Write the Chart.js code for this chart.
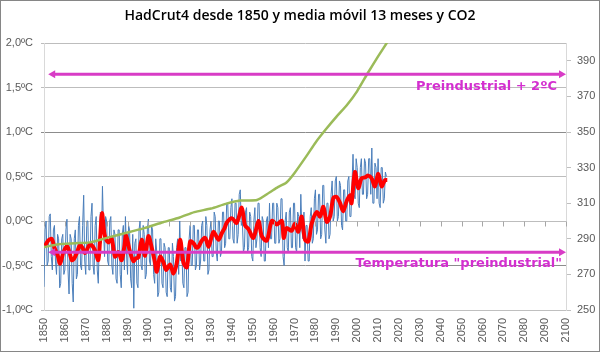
<!DOCTYPE html>
<html>
<head>
<meta charset="utf-8">
<script src="https://cdn.jsdelivr.net/npm/chart.js@4.4.1/dist/chart.umd.min.js"></script>
<style>
html,body{margin:0;padding:0;background:#fff;}
#wrap{width:600px;height:352px;position:relative;}
</style>
</head>
<body>
<div id="wrap"><canvas id="c" width="600" height="352"></canvas></div>
<script>
// ---- DATA ----
const titleText = 'HadCrut4 desde 1850 y media móvil 13 meses y CO2';
const xTickYears = [1850,1860,1870,1880,1890,1900,1910,1920,1930,1940,1950,1960,1970,1980,1990,2000,2010,2020,2030,2040,2050,2060,2070,2080,2090,2100];
const tempTicks = [-1.0,-0.5,0.0,0.5,1.0,1.5,2.0];
const co2Ticks = [250,270,290,310,330,350,370,390];

// Monthly anomaly (blue), every half year, first point 1850.0
const blueFirstYear = 1850;
const blueStep = 0.5;
const blueTemps = [
 -0.74,-0.1, 0.0,-0.5, -0.45,0.05, 0.08,-0.4, -0.55,-0.1, -0.05,-0.45, -0.6,-0.15, -0.2,-0.75, -0.7,-0.2, -0.15,-0.6,
 -0.55,-0.1, 0.02,-0.55, -0.82,-0.15, -0.2,-0.7, -0.91,-0.2, -0.1,-0.65, -0.6,-0.05, 0.05,-0.5, -0.55,-0.05, 0.29,-0.45,
 -0.6,0.0, 0.0,-0.55, -0.55,0.05, 0.2,-0.5, -0.6,-0.05, 0.05,-0.55, -0.7,-0.2, 0.1,-0.25, 0.39,-0.1, -0.4,0.05,
 0.0,-0.45, -0.5,0.0, 0.05,-0.5, -0.6,-0.1, -0.15,-0.65, -0.7,-0.1, -0.1,-0.6, -0.75,-0.15, -0.05,-0.55, 0.05,-0.35,
 -0.6,-0.05, -0.1,-0.65, -0.75,-0.15, -0.98,-0.25, -0.2,-0.7, -0.75,-0.1, 0.0,-0.5, -0.55,-0.05, -0.15,-0.65, -0.6,-0.1,
 0.02,-0.45, -0.5,-0.05, -0.1,-0.6, -0.7,-0.2, -0.35,-0.85, -0.8,-0.2, -0.2,-0.7, -0.75,-0.25, -0.3,-0.8, -0.85,-0.3,
 -0.3,-0.75, -0.8,-0.25, -0.4,-0.9, -0.85,-0.3, -0.2,-0.6, 0.0,-0.45, -0.3,-0.7, -0.75,-0.3, -0.3,-0.85, -0.8,-0.2,
 -0.05,-0.5, -0.5,-0.05, -0.05,-0.55, -0.5,-0.1, -0.1,-0.55, -0.45,-0.05, 0.0,-0.45, -0.45,0.05, -0.05,-0.6, -0.55,-0.1,
 0.0,-0.4, -0.4,0.1, 0.05,-0.35, -0.45,0.0, 0.0,-0.4, -0.35,0.1, 0.1,-0.3, -0.25,0.2, 0.2,-0.2, -0.2,0.15,
 0.25,-0.2, -0.25,0.2, 0.2,-0.25, -0.15,0.3, 0.35,-0.05, 0.0,-0.35, -0.3,0.1, 0.15,-0.35, -0.3,0.1, 0.05,-0.4,
 -0.45,0.0, 0.15,-0.3, -0.2,0.2, 0.2,-0.3, -0.4,0.05, 0.0,-0.45, -0.45,0.0, 0.05,-0.3, 0.2,-0.2, -0.2,0.2,
 0.2,-0.25, -0.25,0.2, 0.15,-0.25, -0.2,0.25, 0.25,-0.4, -0.5,0.0, 0.1,-0.3, -0.35,0.1, 0.15,-0.3, -0.3,0.2,
 0.2,-0.3, -0.35,0.1, 0.05,-0.3, 0.3,-0.1, -0.2,0.1, -0.45,-0.05, -0.05,-0.45, -0.45,0.05, 0.15,-0.25, -0.2,0.25,
 0.35,-0.15, -0.1,0.3, 0.3,-0.2, -0.15,0.4, 0.4,-0.1, -0.25,0.2, 0.2,-0.2, -0.15,0.3, 0.45,0.0, 0.05,0.45,
 0.5,0.0, 0.05,0.45, 0.4,-0.05, -0.1,0.35, 0.35,0.0, 0.0,0.45, 0.5,0.05, 0.05,0.4, 0.75,0.3, 0.25,0.7,
 0.6,0.2, 0.15,0.6, 0.7,0.3, 0.3,0.7, 0.65,0.25, 0.3,0.7, 0.7,0.3, 0.82,0.2, 0.2,0.65, 0.6,0.25,
 0.7,0.2, 0.15,0.6, 0.6,0.2, 0.25,0.55, 0.5
];

// 13-month moving average (red)
const redYears = [1850.5,1852,1853.7,1855,1856.5,1857.7,1859.3,1861,1862.2,1863.3,1864.5,1865.7,1867.2,1868.4,1869.6,1871,1872,1873.2,1874.4,1876,1877,1877.8,1879,1880.8,1882.4,1884,1885.6,1887.2,1888.4,1889.3,1891,1892.8,1894,1895.2,1896.8,1898.4,1900,1901.6,1903,1904,1905.6,1907.3,1908.5,1910.4,1912,1913.6,1915.2,1916.8,1918.4,1920,1921.6,1923,1924,1925.6,1927.2,1928.8,1930,1931.2,1933.6,1935.1,1936.5,1937.5,1939.9,1942.3,1944.7,1946.3,1947.9,1950.3,1952.7,1954.3,1956.7,1959.1,1961.5,1963.9,1964.8,1966.2,1968.6,1970.2,1971.8,1973.4,1975,1976.6,1978.2,1980.6,1982.2,1983.8,1985.4,1987,1988.6,1990.2,1991.8,1993.3,1994.9,1996.5,1997.3,1998.9,2000.5,2002.1,2003.7,2005.3,2006.9,2008.5,2010.1,2011.7,2013.3,2014.4];
const redTemps = [-0.28,-0.22,-0.20,-0.30,-0.38,-0.48,-0.35,-0.28,-0.35,-0.44,-0.42,-0.36,-0.27,-0.30,-0.36,-0.30,-0.26,-0.28,-0.33,-0.44,-0.15,0.09,-0.15,-0.24,-0.20,-0.40,-0.35,-0.44,-0.30,-0.16,-0.33,-0.45,-0.42,-0.41,-0.21,-0.39,-0.17,-0.30,-0.45,-0.57,-0.40,-0.47,-0.55,-0.49,-0.59,-0.47,-0.21,-0.47,-0.52,-0.23,-0.25,-0.30,-0.29,-0.22,-0.19,-0.29,-0.20,-0.12,-0.21,-0.14,-0.08,-0.02,0.03,-0.02,0.15,-0.05,-0.09,-0.19,0.00,-0.17,-0.22,0.00,-0.04,0.00,-0.19,-0.08,-0.11,-0.03,-0.12,0.05,-0.21,-0.23,-0.03,0.10,0.05,0.16,-0.01,0.05,0.26,0.27,0.20,0.11,0.22,0.29,0.20,0.55,0.37,0.48,0.49,0.51,0.48,0.39,0.53,0.39,0.46,0.46];

// CO2 (green, right axis, ppm)
const co2Years = [1850,1857,1865,1872,1880,1890,1898,1907,1915,1922,1930,1937,1944,1952,1958,1962,1966,1970,1976,1980,1985,1990,1995,2000,2005,2010,2015];
const co2Ppm  = [285.3,287,287.5,288,290.5,293.5,296,299.3,302,305,307,309.6,311.5,311.8,316,319,321.5,327,337,344,351.5,358.5,365,373,383,392.5,401.5];

// Reference levels (°C)
const preindustrial = -0.35;
const plus2 = 1.65;
const arrowStartYear = 1852;
const arrowEndYear = 2100;
const labelPlus2 = 'Preindustrial + 2ºC';
const labelPre = 'Temperatura "preindustrial"';

// ---- build ----
const bluePts = blueTemps.map((v,i)=>({x: blueFirstYear + i*blueStep, y: v}));
const redPts = redYears.map((x,i)=>({x, y: redTemps[i]}));
const co2Pts = co2Years.map((x,i)=>({x, y: co2Ppm[i]}));

const MAG = '#d83cc6';
const FONT = '"Liberation Sans", Arial, sans-serif';

const framePlugin = {
  id: 'frame',
  beforeDraw(chart){
    const ctx = chart.ctx;
    ctx.save();
    ctx.fillStyle = '#fff';
    ctx.fillRect(0,0,chart.width,chart.height);
    ctx.restore();
  },
  afterDraw(chart){
    const ctx = chart.ctx;
    ctx.save();
    ctx.strokeStyle = '#868686';
    ctx.lineWidth = 1;
    ctx.strokeRect(0.5,0.5,chart.width-1,chart.height-1);
    ctx.restore();
  }
};

const zeroTicksPlugin = {
  id: 'zeroTicks',
  afterDatasetsDraw(chart){
    const xs = chart.scales.x, ys = chart.scales.y, ctx = chart.ctx;
    const y0 = Math.round(ys.getPixelForValue(0)) + 0.5;
    ctx.save();
    ctx.strokeStyle = '#a6a6a6';
    ctx.lineWidth = 1;
    ctx.beginPath();
    xTickYears.forEach(yr=>{
      const px = Math.round(xs.getPixelForValue(yr)) + 0.5;
      ctx.moveTo(px, y0); ctx.lineTo(px, y0+5);
    });
    ctx.stroke();
    ctx.restore();
  }
};

function arrow(ctx, x1, x2, y){
  const h = 7, w = 4;
  ctx.beginPath();
  ctx.moveTo(x1 + h - 1, y); ctx.lineTo(x2 - h + 1, y);
  ctx.stroke();
  ctx.beginPath();
  ctx.moveTo(x2, y); ctx.lineTo(x2 - h, y - w); ctx.lineTo(x2 - h, y + w); ctx.closePath();
  ctx.fill();
  ctx.beginPath();
  ctx.moveTo(x1, y); ctx.lineTo(x1 + h, y - w); ctx.lineTo(x1 + h, y + w); ctx.closePath();
  ctx.fill();
}

const annotPlugin = {
  id: 'annot',
  afterDatasetsDraw(chart){
    const xs = chart.scales.x, ys = chart.scales.y, ctx = chart.ctx;
    const x1 = xs.getPixelForValue(arrowStartYear), x2 = xs.getPixelForValue(arrowEndYear);
    const yA = ys.getPixelForValue(plus2), yB = ys.getPixelForValue(preindustrial);
    ctx.save();
    ctx.strokeStyle = MAG; ctx.fillStyle = MAG; ctx.lineWidth = 3;
    arrow(ctx, x1, x2, yA);
    arrow(ctx, x1, x2, yB);
    ctx.font = 'bold 13px "DejaVu Sans", Verdana, sans-serif';
    ctx.fillStyle = '#d42fd0';
    ctx.textAlign = 'right'; ctx.textBaseline = 'alphabetic';
    ctx.fillText(labelPlus2, x2 - 9, yA + 15.5);
    ctx.fillText(labelPre, x2 - 4, yB + 14.5);
    ctx.restore();
  }
};

new Chart(document.getElementById('c'), {
  type: 'line',
  data: {
    datasets: [
      { label: 'CO2', data: co2Pts, yAxisID: 'y2', borderColor: '#9bbb59', borderWidth: 2.5, pointRadius: 0, tension: 0.2, fill: false, order: 1 },
      { label: 'Media móvil 13 meses', data: redPts, yAxisID: 'y', borderColor: '#ff0000', borderWidth: 4, pointRadius: 0, tension: 0.3, fill: false, order: 2 },
      { label: 'HadCrut4', data: bluePts, yAxisID: 'y', borderColor: '#4a7ebb', borderWidth: 1, pointRadius: 0, tension: 0, fill: false, order: 3 }
    ]
  },
  options: {
    responsive: false,
    animation: false,
    layout: { padding: { left: 0, right: 0, top: 0, bottom: 0 } },
    plugins: {
      legend: { display: false },
      tooltip: { enabled: false },
      title: {
        display: true, text: titleText, color: '#000',
        font: { family: '"Open Sans", sans-serif', size: 14, weight: '600', lineHeight: 1.2 },
        padding: { top: 8, bottom: 18.2 }
      }
    },
    scales: {
      x: {
        type: 'linear', min: 1850, max: 2100, position: 'bottom',
        afterBuildTicks(s){ s.ticks = xTickYears.map(v=>({value:v})); },
        afterFit(s){ s.height = 42; },
        grid: { display: false, drawTicks: false },
        border: { display: true, color: '#bfbfbf' },
        ticks: { minRotation: 90, maxRotation: 90, padding: 8, autoSkip: false, color: '#595959',
                 font: { family: FONT, size: 11 }, callback: v => String(v) }
      },
      y: {
        type: 'linear', min: -1, max: 2, position: 'left',
        afterBuildTicks(s){ s.ticks = tempTicks.map(v=>({value:v})); },
        afterFit(s){ s.width = 44; },
        grid: { color: c => (c.tick && (c.tick.value === 1 || c.tick.value === -0.5)) ? '#8c8c8c' : '#bdbdbd', tickLength: 3 },
        border: { display: true, color: '#d9d9d9' },
        ticks: { padding: 8, color: '#595959', font: { family: FONT, size: 11 },
                 callback: v => v.toFixed(1).replace('.', ',') + 'ºC' }
      },
      y2: {
        type: 'linear', min: 250, max: 400, position: 'right',
        afterBuildTicks(s){ s.ticks = co2Ticks.map(v=>({value:v})); },
        afterFit(s){ s.width = 34; },
        grid: { drawOnChartArea: false, color: '#bfbfbf', tickLength: 5 },
        border: { display: true, color: '#d9d9d9' },
        ticks: { padding: 6, color: '#595959', font: { family: FONT, size: 11 }, callback: v => String(v) }
      }
    }
  },
  plugins: [framePlugin, zeroTicksPlugin, annotPlugin]
});
</script>
</body>
</html>
